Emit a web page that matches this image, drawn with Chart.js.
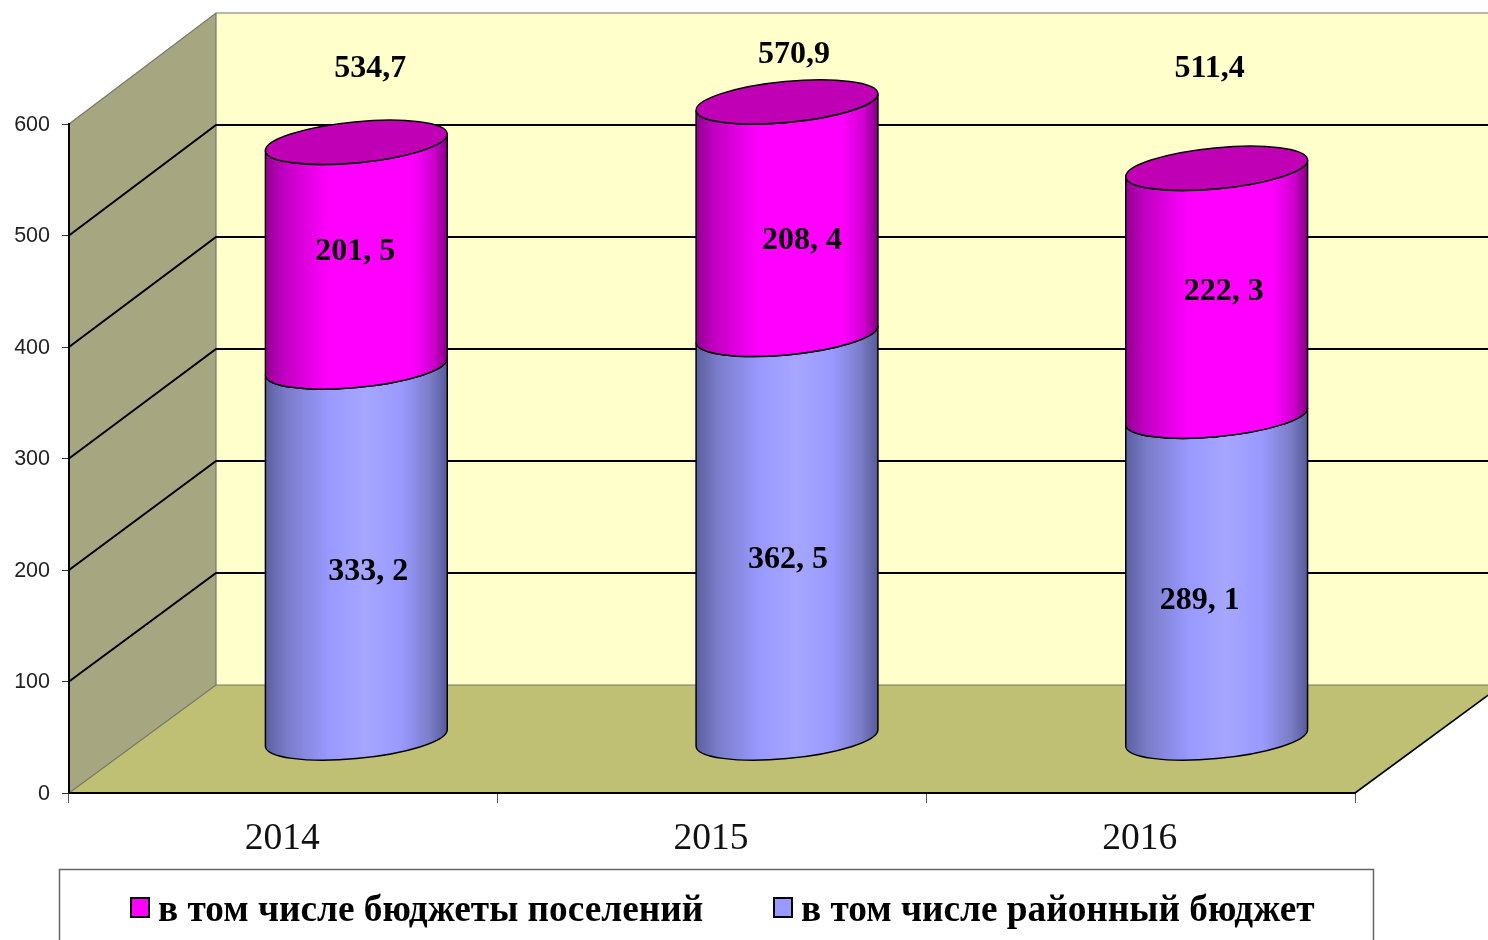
<!DOCTYPE html>
<html>
<head>
<meta charset="utf-8">
<title>Бюджет</title>
<script src="https://cdn.jsdelivr.net/npm/chart.js@4/dist/chart.umd.min.js"></script>
<style>
    html, body { margin: 0; padding: 0; background: #fff; overflow: hidden; }
    #wrap { width: 1488px; height: 940px; }
    canvas { display: block; }
</style>
</head>
<body>
<div id="wrap"><canvas id="budgetChart"></canvas></div>
<script>
// Chart data
const years = ["2014", "2015", "2016"];
const districtBudget = [333.2, 362.5, 289.1];
const settlementBudgets = [201.5, 208.4, 222.3];
const totals = [534.7, 570.9, 511.4];
const yTicks = [0, 100, 200, 300, 400, 500, 600];

// Labels in the picture were moved by hand, so keep their shifts from the cylinder centre
const totalShift = [[14, -73.5], [7, -47.5], [-7, -99.5]];
const settlementShift = [[-1, -2.5], [15, 22.5], [7, -0.5]];
const districtShift = [[12, 19.5], [1, 23.5], [-17, 23.5]];
const cylinderNudge = [-0.5, 1.5, 2.5]; // slight perspective drift of the cylinders

// 3D look
const DEPTH_X = 147;
const DEPTH_Y = 108;
const CYLINDER_RISE = 54.5;
const TILT = -0.095;
const ELLIPSE_RY = 20.5;

function formatSegment(v) {
    return v.toFixed(1).replace(".", ", ");
}

// Function to draw the walls and floor behind the bars
const wallsPlugin = {
    id: "walls",
    beforeDraw(chart) {
        const ctx = chart.ctx;
        const y = chart.scales.y;
        const area = chart.chartArea;
        const left = area.left, right = area.right;
        const backY = (v) => y.getPixelForValue(v) - DEPTH_Y - v / 600 * 3;
        const back = left + DEPTH_X;
        ctx.save();

        // back wall
        ctx.fillStyle = "#FFFFCC";
        ctx.fillRect(back, backY(600), right + DEPTH_X - back, backY(0) - backY(600));

        // side wall
        ctx.fillStyle = "#A6A680";
        ctx.beginPath();
        ctx.moveTo(left, y.getPixelForValue(600));
        ctx.lineTo(back, backY(600));
        ctx.lineTo(back, backY(0));
        ctx.lineTo(left, y.getPixelForValue(0));
        ctx.closePath();
        ctx.fill();

        // floor
        ctx.fillStyle = "#C0C074";
        ctx.beginPath();
        ctx.moveTo(left, y.getPixelForValue(0));
        ctx.lineTo(back, backY(0));
        ctx.lineTo(right + DEPTH_X, backY(0));
        ctx.lineTo(right, y.getPixelForValue(0));
        ctx.closePath();
        ctx.fill();

        // thin edges
        ctx.strokeStyle = "#77776a";
        ctx.lineWidth = 1.2;
        ctx.beginPath();
        ctx.moveTo(left, y.getPixelForValue(600));
        ctx.lineTo(back, backY(600));
        ctx.lineTo(right + DEPTH_X, backY(600));
        ctx.moveTo(back, backY(600));
        ctx.lineTo(back, backY(0));
        ctx.lineTo(right + DEPTH_X, backY(0));
        ctx.moveTo(left, y.getPixelForValue(0));
        ctx.lineTo(back, backY(0));
        ctx.stroke();

        ctx.strokeStyle = "#000";
        ctx.lineWidth = 1.6;
        ctx.beginPath();
        ctx.moveTo(right, y.getPixelForValue(0));
        ctx.lineTo(right + DEPTH_X, backY(0));
        ctx.stroke();

        // gridlines on both walls
        ctx.lineWidth = 2;
        ctx.beginPath();
        yTicks.forEach((v) => {
            if (v === 0 || v === 600) return;
            ctx.moveTo(left, y.getPixelForValue(v));
            ctx.lineTo(back, backY(v));
            ctx.lineTo(right + DEPTH_X, backY(v));
        });
        ctx.stroke();
        ctx.restore();
    }
};

function bodyGradient(ctx, x0, x1, stops) {
    const g = ctx.createLinearGradient(x0, 0, x1, 0);
    stops.forEach((s) => g.addColorStop(s[0], s[1]));
    return g;
}

const blueStops = [[0, "#5A5F9F"], [0.12, "#7A7CC8"], [0.35, "#9999FF"], [0.55, "#A6A6FF"], [0.75, "#9999FF"], [0.9, "#7C7EC8"], [1, "#565A98"]];
const magentaStops = [[0, "#900090"], [0.1, "#C000C0"], [0.35, "#FF00FF"], [0.8, "#FF00FF"], [0.92, "#D000D0"], [1, "#800080"]];

function drawSegment(ctx, cx, rx, yBase, yTop, stops) {
    const t0 = Math.atan((ELLIPSE_RY / rx) * Math.tan(-TILT));
    ctx.beginPath();
    ctx.ellipse(cx, yBase, rx, ELLIPSE_RY, TILT, t0, t0 + Math.PI, false);
    ctx.ellipse(cx, yTop, rx, ELLIPSE_RY, TILT, t0 + Math.PI, t0, true);
    ctx.closePath();
    ctx.fillStyle = bodyGradient(ctx, cx - rx, cx + rx, stops);
    ctx.fill();
    ctx.strokeStyle = "#000";
    ctx.lineWidth = 1.5;
    ctx.stroke();
}

// Function to draw the stacked bars as cylinders, standing mid way on the floor
const cylinderPlugin = {
    id: "cylinders",
    beforeDatasetsDraw(chart) {
        const ctx = chart.ctx;
        const district = chart.getDatasetMeta(0).data;
        const settlement = chart.getDatasetMeta(1).data;
        ctx.save();
        district.forEach((bar, i) => {
            const top = settlement[i];
            const cx = bar.x + DEPTH_X / 2 + cylinderNudge[i];
            const rx = bar.width / 2;
            const yBase = bar.base - CYLINDER_RISE;
            const yMid = bar.y - CYLINDER_RISE;
            const yTop = top.y - CYLINDER_RISE;

            drawSegment(ctx, cx, rx, yBase, yMid, blueStops);
            drawSegment(ctx, cx, rx, yMid, yTop, magentaStops);

            // top lid
            ctx.beginPath();
            ctx.ellipse(cx, yTop, rx, ELLIPSE_RY, TILT, 0, Math.PI * 2);
            ctx.fillStyle = "#C000B4";
            ctx.fill();
            ctx.lineWidth = 1.5;
            ctx.strokeStyle = "#000";
            ctx.stroke();

            // value labels
            ctx.fillStyle = "#000";
            ctx.font = "bold 32px 'Liberation Serif'";
            ctx.textAlign = "center";
            ctx.textBaseline = "middle";
            ctx.fillText(String(totals[i]).replace(".", ","), cx + totalShift[i][0], yTop + totalShift[i][1]);
            ctx.fillText(formatSegment(settlementBudgets[i]), cx + settlementShift[i][0], (yMid + yTop) / 2 + settlementShift[i][1]);
            ctx.fillText(formatSegment(districtBudget[i]), cx + districtShift[i][0], (yBase + yMid) / 2 + districtShift[i][1]);
        });
        ctx.restore();
        return false; // cylinders replace the flat bars
    }
};

// Function to draw the framed legend, cut by the bottom of the page
const legendPlugin = {
    id: "boxLegend",
    afterDraw(chart) {
        const ctx = chart.ctx;
        const entries = [
            { set: chart.data.datasets[1], box: 131, text: 158 },
            { set: chart.data.datasets[0], box: 774, text: 801 }
        ];
        ctx.save();
        ctx.strokeStyle = "#666";
        ctx.lineWidth = 1.5;
        ctx.strokeRect(59.5, 869.5, 1314, 90);
        ctx.font = "bold 37.3px 'Liberation Serif'";
        ctx.textAlign = "left";
        ctx.textBaseline = "middle";
        entries.forEach((e) => {
            ctx.fillStyle = e.set.backgroundColor;
            ctx.strokeStyle = "#000";
            ctx.lineWidth = 2;
            ctx.fillRect(e.box, 898, 18, 19);
            ctx.strokeRect(e.box, 898, 18, 19);
            ctx.fillStyle = "#000";
            ctx.fillText(e.set.label, e.text, 911);
        });
        ctx.restore();
    }
};

const budgetChart = new Chart(document.getElementById("budgetChart").getContext("2d"), {
    type: "bar",
    data: {
        labels: years,
        datasets: [
            { label: "в том числе районный бюджет", data: districtBudget, backgroundColor: "#9999FF" },
            { label: "в том числе бюджеты поселений", data: settlementBudgets, backgroundColor: "#FF00FF" }
        ]
    },
    options: {
        responsive: true,
        maintainAspectRatio: false,
        animation: false,
        categoryPercentage: 0.426,
        barPercentage: 1,
        layout: { padding: { top: 124, right: 133, bottom: 90, left: 0 } },
        scales: {
            x: {
                stacked: true,
                grid: { drawOnChartArea: false, tickLength: 10, color: "#555" },
                border: { color: "#000", width: 2 },
                ticks: { color: "#111", padding: 14, maxRotation: 0, labelOffset: -1, font: { family: "'Liberation Serif'", size: 37.5 } },
                afterFit(scale) { scale.height = 57; }
            },
            y: {
                stacked: true,
                min: 0,
                max: 600,
                grid: { drawOnChartArea: false, tickLength: 7, color: "#333" },
                border: { color: "#000", width: 2 },
                ticks: { stepSize: 100, color: "#222", padding: 12, labelOffset: 1, font: { family: "'Liberation Sans'", size: 21.5 } },
                afterFit(scale) { scale.width = 69; }
            }
        },
        plugins: {
            legend: { display: false },
            tooltip: { enabled: false }
        }
    },
    plugins: [wallsPlugin, cylinderPlugin, legendPlugin]
});
</script>
</body>
</html>
